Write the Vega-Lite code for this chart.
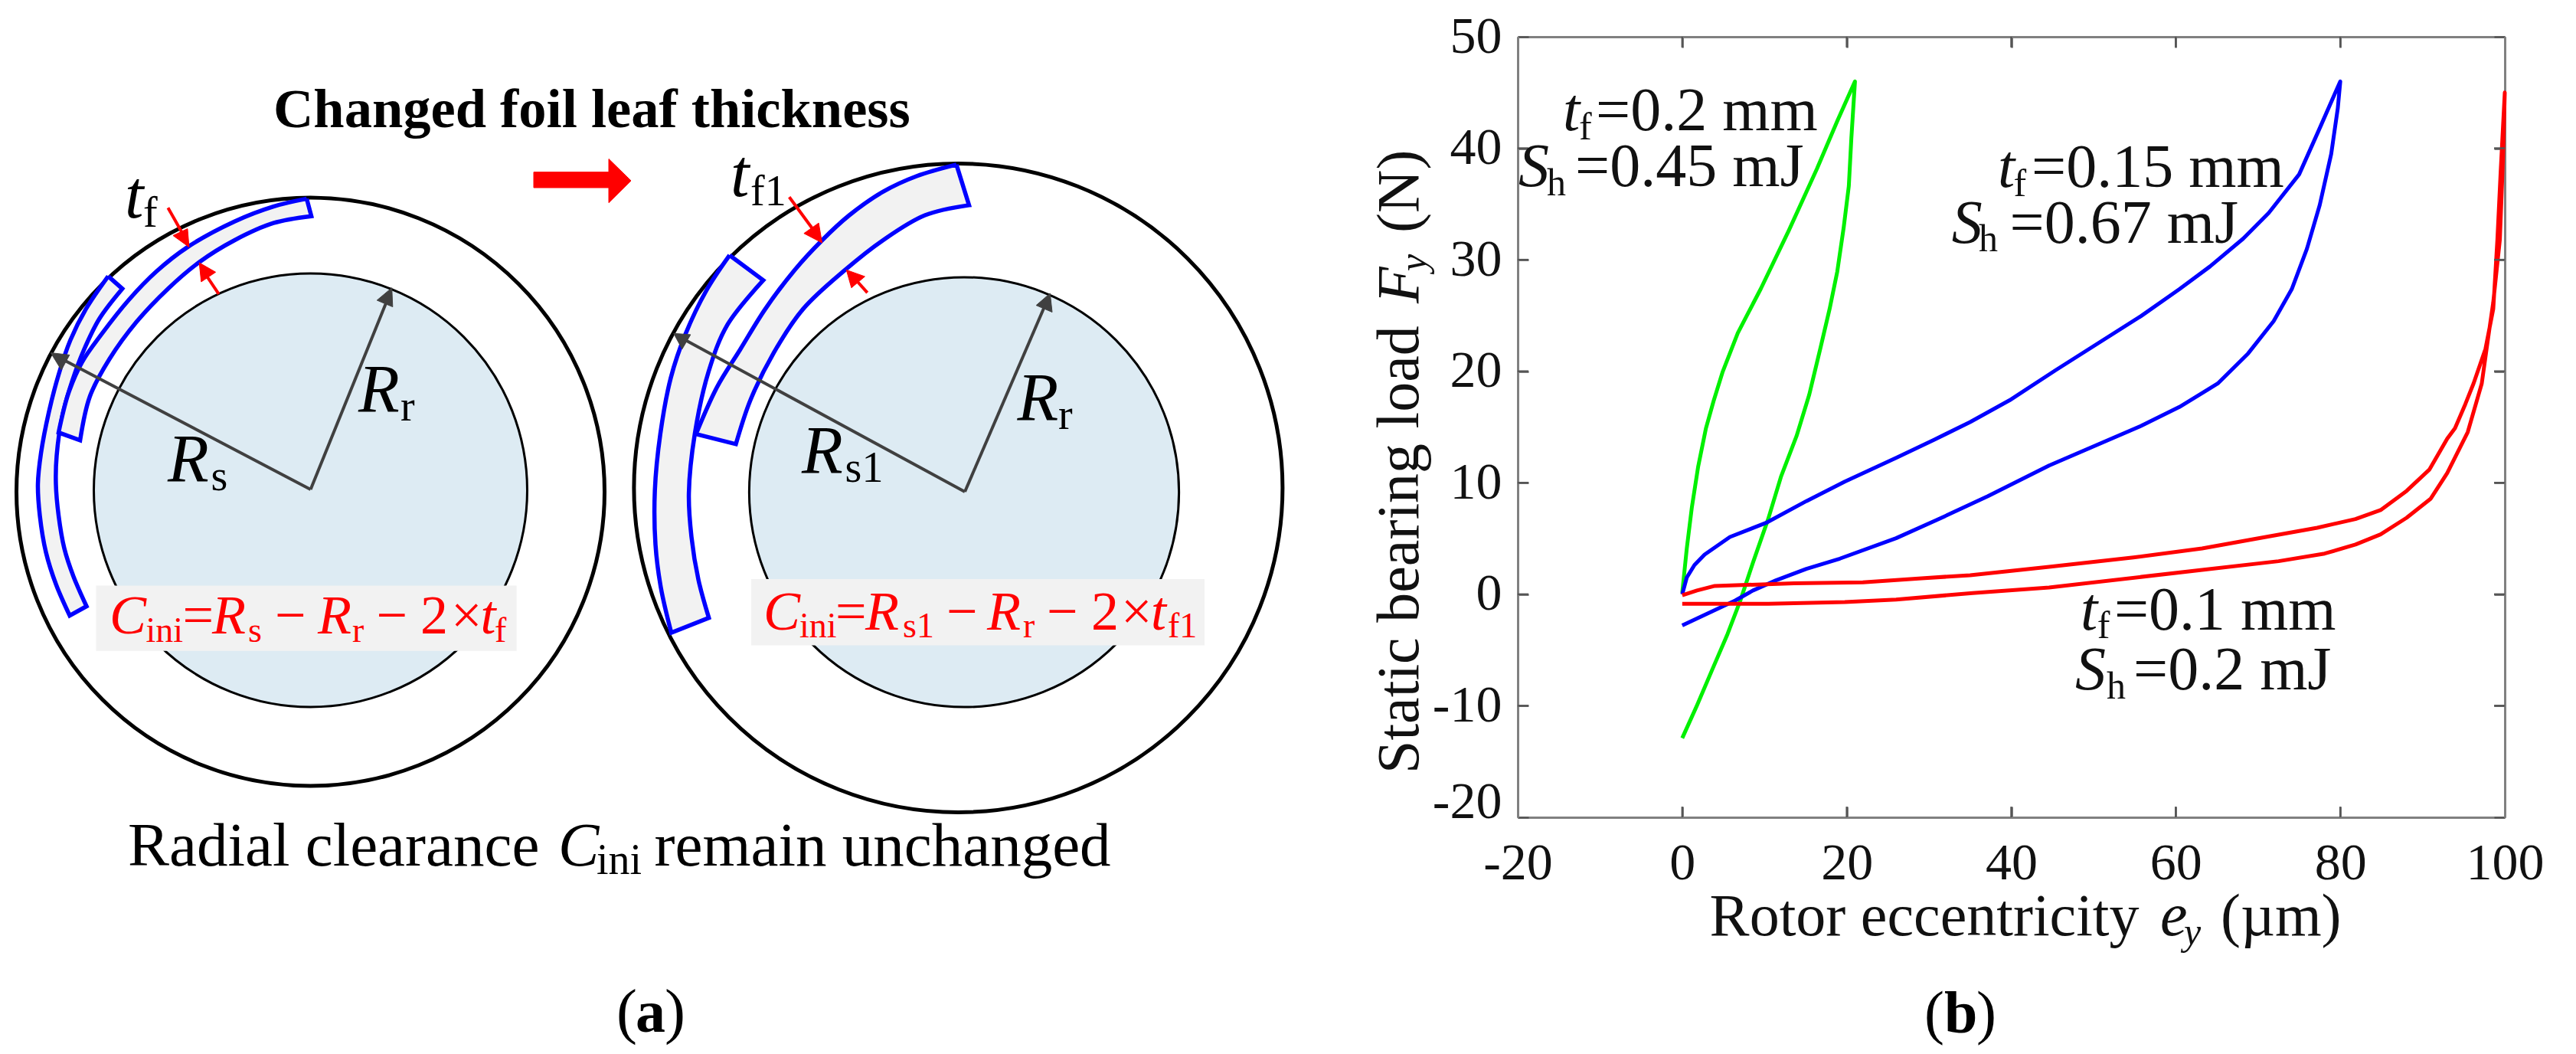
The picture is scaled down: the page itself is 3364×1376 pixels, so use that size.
{
"$schema":"https://vega.github.io/schema/vega-lite/v6.json",
"background":"white",
"padding":{"left":0,"top":14,"right":0,"bottom":0},
"spacing":10,
"config":{"view":{"stroke":null},"text":{"font":"Liberation Serif"},"axis":{"labelFont":"Liberation Serif"}},
"hconcat":[
{"width":1780,"height":1329,
"layer":[
{"mark":{"type":"point","shape":"circle","filled":true,"fill":"#ddebf3","stroke":"black","strokeWidth":3,"size":320356,"opacity":1},
"data":{"values":[{"x":405.5,"y":639}]},
"encoding":{"x":{"field":"x","type":"quantitative","scale":{"domain":[0,1780],"nice":false,"zero":false},"axis":null},"y":{"field":"y","type":"quantitative","scale":{"domain":[1376,47],"nice":false,"zero":false},"axis":null}}},
{"mark":{"type":"point","shape":"circle","filled":true,"fill":"#ddebf3","stroke":"black","strokeWidth":3,"size":315000,"opacity":1},
"data":{"values":[{"x":1259,"y":641.5}]},
"encoding":{"x":{"field":"x","type":"quantitative"},"y":{"field":"y","type":"quantitative"}}},
{"mark":{"type":"point","shape":"circle","filled":false,"stroke":"black","strokeWidth":5,"size":589824,"opacity":1},
"data":{"values":[{"x":405.5,"y":641}]},
"encoding":{"x":{"field":"x","type":"quantitative"},"y":{"field":"y","type":"quantitative"}}},
{"mark":{"type":"point","shape":"circle","filled":false,"stroke":"black","strokeWidth":5,"size":717409,"opacity":1},
"data":{"values":[{"x":1251.4,"y":636}]},
"encoding":{"x":{"field":"x","type":"quantitative"},"y":{"field":"y","type":"quantitative"}}},
{"mark":{"type":"line","interpolate":"catmull-rom","fill":"#f2f2f2","stroke":"#0000ff","strokeWidth":5.5,"strokeJoin":"miter"},
"data":{"values":[
{"p":"B1","i":0,"x":141.3,"y":359.6},{"p":"B1","i":0.5,"x":141.3,"y":359.6},{"p":"B1","i":1,"x":112.2,"y":402.4},{"p":"B1","i":2,"x":91.8,"y":443.3},{"p":"B1","i":3,"x":76.5,"y":488.2},{"p":"B1","i":4,"x":63.8,"y":537.1},{"p":"B1","i":5,"x":53.6,"y":590.2},{"p":"B1","i":6,"x":49.5,"y":631},{"p":"B1","i":7,"x":52,"y":672},{"p":"B1","i":8,"x":60,"y":720},{"p":"B1","i":9,"x":73.2,"y":762},{"p":"B1","i":10,"x":91,"y":802.6},{"p":"B1","i":10.5,"x":91,"y":802.6},{"p":"B1","i":11,"x":113,"y":790.5},{"p":"B1","i":11.5,"x":113,"y":790.5},{"p":"B1","i":12,"x":96,"y":751.7},{"p":"B1","i":13,"x":84,"y":715},{"p":"B1","i":14,"x":76.5,"y":671.8},{"p":"B1","i":15,"x":73,"y":631},{"p":"B1","i":16,"x":74,"y":594},{"p":"B1","i":17,"x":81.6,"y":541},{"p":"B1","i":18,"x":94.4,"y":496},{"p":"B1","i":19,"x":109.7,"y":455.5},{"p":"B1","i":20,"x":130,"y":414.7},{"p":"B1","i":21,"x":159.7,"y":375.9},{"p":"B1","i":21.5,"x":159.7,"y":375.9},{"p":"B1","i":22,"x":141.3,"y":359.6},
{"p":"A1","i":0,"x":400.5,"y":258.4},{"p":"A1","i":0.5,"x":400.5,"y":258.4},{"p":"A1","i":1,"x":357.1,"y":268.6},{"p":"A1","i":2,"x":306.1,"y":288.2},{"p":"A1","i":3,"x":244.9,"y":321.6},{"p":"A1","i":4,"x":204.1,"y":353.5},{"p":"A1","i":5,"x":168.4,"y":390.2},{"p":"A1","i":6,"x":132.7,"y":435.1},{"p":"A1","i":7,"x":107.1,"y":471.8},{"p":"A1","i":8,"x":89.3,"y":512.7},{"p":"A1","i":9,"x":76.5,"y":563.7},{"p":"A1","i":9.5,"x":76.5,"y":563.7},{"p":"A1","i":10,"x":104.6,"y":573.9},{"p":"A1","i":10.5,"x":104.6,"y":573.9},{"p":"A1","i":11,"x":117.3,"y":516.7},{"p":"A1","i":12,"x":142.9,"y":467.8},{"p":"A1","i":13,"x":178.6,"y":418.8},{"p":"A1","i":14,"x":219.4,"y":375.9},{"p":"A1","i":15,"x":260.2,"y":341.2},{"p":"A1","i":16,"x":306.1,"y":312.7},{"p":"A1","i":17,"x":357.1,"y":290.2},{"p":"A1","i":18,"x":406.6,"y":281.2},{"p":"A1","i":18.5,"x":406.6,"y":281.2},{"p":"A1","i":19,"x":400.5,"y":258.4},
{"p":"B2","i":0,"x":952.8,"y":332.2},{"p":"B2","i":0.5,"x":952.8,"y":332.2},{"p":"B2","i":1,"x":922.6,"y":378},{"p":"B2","i":2,"x":895.2,"y":435.1},{"p":"B2","i":3,"x":876,"y":492.2},{"p":"B2","i":4,"x":862.3,"y":565.7},{"p":"B2","i":5,"x":855.2,"y":639.2},{"p":"B2","i":6,"x":856,"y":710},{"p":"B2","i":7,"x":863,"y":766},{"p":"B2","i":8,"x":876.6,"y":825},{"p":"B2","i":8.5,"x":876.6,"y":825},{"p":"B2","i":9,"x":925.7,"y":805.6},{"p":"B2","i":9.5,"x":925.7,"y":805.6},{"p":"B2","i":10,"x":912.1,"y":756},{"p":"B2","i":11,"x":903,"y":700},{"p":"B2","i":12,"x":899.6,"y":643},{"p":"B2","i":13,"x":907.3,"y":565.7},{"p":"B2","i":14,"x":925.4,"y":484},{"p":"B2","i":15,"x":950,"y":422.9},{"p":"B2","i":16,"x":996.7,"y":364.9},{"p":"B2","i":16.5,"x":996.7,"y":364.9},{"p":"B2","i":17,"x":952.8,"y":332.2},
{"p":"A2","i":0,"x":1249,"y":213.9},{"p":"A2","i":0.5,"x":1249,"y":213.9},{"p":"A2","i":1,"x":1196.9,"y":229},{"p":"A2","i":2,"x":1153,"y":249.4},{"p":"A2","i":3,"x":1109.1,"y":280},{"p":"A2","i":4,"x":1073.5,"y":312.7},{"p":"A2","i":5,"x":1037.8,"y":351.4},{"p":"A2","i":6,"x":999.4,"y":402.4},{"p":"A2","i":7,"x":966.5,"y":455.5},{"p":"A2","i":8,"x":936.3,"y":504.5},{"p":"A2","i":9,"x":908.9,"y":565.7},{"p":"A2","i":9.5,"x":908.9,"y":565.7},{"p":"A2","i":10,"x":961,"y":578.8},{"p":"A2","i":10.5,"x":961,"y":578.8},{"p":"A2","i":11,"x":980.2,"y":520.8},{"p":"A2","i":12,"x":1010.4,"y":459.6},{"p":"A2","i":13,"x":1048.8,"y":402.4},{"p":"A2","i":14,"x":1103.6,"y":351.4},{"p":"A2","i":15,"x":1153,"y":312.7},{"p":"A2","i":16,"x":1207.9,"y":280},{"p":"A2","i":17,"x":1265.5,"y":266.9},{"p":"A2","i":17.5,"x":1265.5,"y":266.9},{"p":"A2","i":18,"x":1249,"y":213.9}
]},
"encoding":{"x":{"field":"x","type":"quantitative"},"y":{"field":"y","type":"quantitative"},"detail":{"field":"p"},"order":{"field":"i","type":"quantitative"}}},
{"mark":{"type":"line","stroke":"#404040","strokeWidth":4},
"data":{"values":[
{"p":"a","i":0,"x":405.6,"y":638},{"p":"a","i":1,"x":70,"y":462},
{"p":"b","i":0,"x":405.6,"y":638},{"p":"b","i":1,"x":508,"y":385},
{"p":"c","i":0,"x":1260,"y":641},{"p":"c","i":1,"x":884,"y":437},
{"p":"d","i":0,"x":1260,"y":641},{"p":"d","i":1,"x":1368,"y":390}
]},
"encoding":{"x":{"field":"x","type":"quantitative"},"y":{"field":"y","type":"quantitative"},"detail":{"field":"p"},"order":{"field":"i","type":"quantitative"}}},
{"mark":{"type":"line","fill":"#404040","stroke":"#404040","strokeWidth":1},
"data":{"values":[
{"p":"a","i":0,"x":66.3,"y":459.6},{"p":"a","i":1,"x":90.8,"y":462.4},{"p":"a","i":2,"x":80.1,"y":482},{"p":"a","i":3,"x":66.3,"y":459.6},
{"p":"b","i":0,"x":511.7,"y":374.7},{"p":"b","i":1,"x":492.3,"y":391},{"p":"b","i":2,"x":512.8,"y":399.6},{"p":"b","i":3,"x":511.7,"y":374.7},
{"p":"c","i":0,"x":879.8,"y":434.3},{"p":"c","i":1,"x":901.8,"y":435.9},{"p":"c","i":2,"x":890.8,"y":454.7},{"p":"c","i":3,"x":879.8,"y":434.3},
{"p":"d","i":0,"x":1371.3,"y":382},{"p":"d","i":1,"x":1353.2,"y":397.6},{"p":"d","i":2,"x":1374,"y":406.5},{"p":"d","i":3,"x":1371.3,"y":382}
]},
"encoding":{"x":{"field":"x","type":"quantitative"},"y":{"field":"y","type":"quantitative"},"detail":{"field":"p"},"order":{"field":"i","type":"quantitative"}}},
{"mark":{"type":"line","stroke":"#ff0000","strokeWidth":4},
"data":{"values":[
{"p":"a","i":0,"x":219.4,"y":270.2},{"p":"a","i":1,"x":243,"y":312},
{"p":"b","i":0,"x":285.7,"y":382.9},{"p":"b","i":1,"x":265,"y":352},
{"p":"c","i":0,"x":1030.7,"y":256.3},{"p":"c","i":1,"x":1068,"y":307},
{"p":"d","i":0,"x":1132.7,"y":381.2},{"p":"d","i":1,"x":1112,"y":358}
]},
"encoding":{"x":{"field":"x","type":"quantitative"},"y":{"field":"y","type":"quantitative"},"detail":{"field":"p"},"order":{"field":"i","type":"quantitative"}}},
{"mark":{"type":"line","fill":"#ff0000","stroke":"#ff0000","strokeWidth":1},
"data":{"values":[
{"p":"a","i":0,"x":246.9,"y":321.6},{"p":"a","i":1,"x":244.9,"y":297.6},{"p":"a","i":2,"x":226,"y":306.5},{"p":"a","i":3,"x":246.9,"y":321.6},
{"p":"b","i":0,"x":260.2,"y":342},{"p":"b","i":1,"x":281.6,"y":354.3},{"p":"b","i":2,"x":262.8,"y":366.9},{"p":"b","i":3,"x":260.2,"y":342},
{"p":"c","i":0,"x":1073.5,"y":315.9},{"p":"c","i":1,"x":1069.1,"y":290.2},{"p":"c","i":2,"x":1049.9,"y":303.7},{"p":"c","i":3,"x":1073.5,"y":315.9},
{"p":"d","i":0,"x":1105.3,"y":351.4},{"p":"d","i":1,"x":1129.4,"y":360},{"p":"d","i":2,"x":1111.9,"y":374.7},{"p":"d","i":3,"x":1105.3,"y":351.4},
{"p":"e","i":0,"x":697,"y":223.7},{"p":"e","i":1,"x":795,"y":223.7},{"p":"e","i":2,"x":795,"y":206.5},{"p":"e","i":3,"x":824,"y":234.9},{"p":"e","i":4,"x":795,"y":263.7},{"p":"e","i":5,"x":795,"y":244},{"p":"e","i":6,"x":697,"y":244},{"p":"e","i":7,"x":697,"y":223.7}
]},
"encoding":{"x":{"field":"x","type":"quantitative"},"y":{"field":"y","type":"quantitative"},"detail":{"field":"p"},"order":{"field":"i","type":"quantitative"}}},
{"mark":{"type":"rect","fill":"#f2f2f2"},
"data":{"values":[{"x":125.5,"x2":674.7,"y":763.4,"y2":848.7},{"x":981,"x2":1573,"y":755,"y2":841.4}]},
"encoding":{"x":{"field":"x","type":"quantitative"},"x2":{"field":"x2"},"y":{"field":"y","type":"quantitative"},"y2":{"field":"y2"}}},
{"mark":{"type":"text","align":"left","baseline":"alphabetic","fontSize":72.5,"fontWeight":"bold","color":"black"},
"data":{"values":[{"t":"Changed foil leaf thickness","x":357,"y":164.5}]},
"encoding":{"x":{"field":"x","type":"quantitative"},"y":{"field":"y","type":"quantitative"},"text":{"field":"t"}}},
{"mark":{"type":"text","align":"left","baseline":"alphabetic","fontSize":81,"color":"black"},
"data":{"values":[{"t":"Radial clearance","x":167,"y":1129},{"t":"remain unchanged","x":854.6,"y":1129},{"t":"(","x":805,"y":1346},{"t":")","x":868,"y":1346}]},
"encoding":{"x":{"field":"x","type":"quantitative"},"y":{"field":"y","type":"quantitative"},"text":{"field":"t"}}},
{"mark":{"type":"text","align":"left","baseline":"alphabetic","fontSize":78,"fontWeight":"bold","color":"black"},
"data":{"values":[{"t":"a","x":830,"y":1346}]},
"encoding":{"x":{"field":"x","type":"quantitative"},"y":{"field":"y","type":"quantitative"},"text":{"field":"t"}}},
{"mark":{"type":"text","align":"left","baseline":"alphabetic","fontSize":80,"fontStyle":"italic","color":"black"},
"data":{"values":[{"t":"C","x":729,"y":1129}]},
"encoding":{"x":{"field":"x","type":"quantitative"},"y":{"field":"y","type":"quantitative"},"text":{"field":"t"}}},
{"mark":{"type":"text","align":"left","baseline":"alphabetic","fontSize":88,"fontStyle":"italic","color":"black"},
"data":{"values":[{"t":"t","x":163,"y":283},{"t":"t","x":954,"y":254.7},{"t":"R","x":219,"y":627},{"t":"R","x":468,"y":536},{"t":"R","x":1047,"y":616},{"t":"R","x":1328.5,"y":547}]},
"encoding":{"x":{"field":"x","type":"quantitative"},"y":{"field":"y","type":"quantitative"},"text":{"field":"t"}}},
{"mark":{"type":"text","align":"left","baseline":"alphabetic","fontSize":56,"color":"black"},
"data":{"values":[{"t":"ini","x":779,"y":1139.6},{"t":"f","x":187,"y":295},{"t":"f1","x":980,"y":267},{"t":"s","x":275.5,"y":639},{"t":"r","x":523,"y":548},{"t":"s1","x":1103.6,"y":628},{"t":"r","x":1382,"y":559}]},
"encoding":{"x":{"field":"x","type":"quantitative"},"y":{"field":"y","type":"quantitative"},"text":{"field":"t"}}},
{"mark":{"type":"text","align":"left","baseline":"alphabetic","fontSize":72,"fontStyle":"italic","color":"#ff0000"},
"data":{"values":[{"t":"C","x":143,"y":826},{"t":"R","x":277,"y":826},{"t":"R","x":415,"y":826},{"t":"t","x":627.6,"y":826},{"t":"C","x":997,"y":820.7},{"t":"R","x":1130,"y":820.7},{"t":"R","x":1289,"y":820.7},{"t":"t","x":1503,"y":820.7}]},
"encoding":{"x":{"field":"x","type":"quantitative"},"y":{"field":"y","type":"quantitative"},"text":{"field":"t"}}},
{"mark":{"type":"text","align":"left","baseline":"alphabetic","fontSize":72,"color":"#ff0000"},
"data":{"values":[{"t":"=","x":238.5,"y":826},{"t":"−","x":359,"y":826},{"t":"−","x":491.6,"y":826},{"t":"2","x":549,"y":826},{"t":"×","x":589,"y":826},{"t":"=","x":1091,"y":820.7},{"t":"−","x":1236,"y":820.7},{"t":"−","x":1367,"y":820.7},{"t":"2","x":1425,"y":820.7},{"t":"×","x":1464,"y":820.7}]},
"encoding":{"x":{"field":"x","type":"quantitative"},"y":{"field":"y","type":"quantitative"},"text":{"field":"t"}}},
{"mark":{"type":"text","align":"left","baseline":"alphabetic","fontSize":46,"color":"#ff0000"},
"data":{"values":[{"t":"ini","x":190.4,"y":837},{"t":"s","x":324,"y":837},{"t":"r","x":460,"y":837},{"t":"f","x":646,"y":837},{"t":"ini","x":1044,"y":830.6},{"t":"s1","x":1179,"y":830.6},{"t":"r","x":1336,"y":830.6},{"t":"f1","x":1525,"y":830.6}]},
"encoding":{"x":{"field":"x","type":"quantitative"},"y":{"field":"y","type":"quantitative"},"text":{"field":"t"}}}
]},
{"width":1289,"height":1019,
"layer":[
{"mark":{"type":"line","strokeWidth":5,"strokeJoin":"round"},
"data":{"values":[
{"c":"g","i":0,"e":0,"f":0.13},{"c":"g","i":1,"e":0.55,"f":4.1},{"c":"g","i":2,"e":1.17,"f":7.8},{"c":"g","i":3,"e":1.94,"f":11.47},{"c":"g","i":4,"e":2.87,"f":14.85},{"c":"g","i":5,"e":3.8,"f":17.3},{"c":"g","i":6,"e":4.89,"f":19.9},{"c":"g","i":7,"e":6.75,"f":23.43},{"c":"g","i":8,"e":9.55,"f":27.4},{"c":"g","i":9,"e":12.96,"f":32.63},{"c":"g","i":10,"e":16.37,"f":38.15},{"c":"g","i":11,"e":18.85,"f":42.45},{"c":"g","i":12,"e":21,"f":46},{"c":"g","i":13,"e":20.56,"f":40.9},{"c":"g","i":14,"e":20.25,"f":36.6},{"c":"g","i":15,"e":19.63,"f":32.9},{"c":"g","i":16,"e":18.85,"f":28.95},{"c":"g","i":17,"e":17.92,"f":25.6},{"c":"g","i":18,"e":16.84,"f":22.2},{"c":"g","i":19,"e":15.44,"f":17.9},{"c":"g","i":20,"e":13.9,"f":14.2},{"c":"g","i":21,"e":12.03,"f":10.6},{"c":"g","i":22,"e":10.47,"f":6.8},{"c":"g","i":23,"e":8.61,"f":2.87},{"c":"g","i":24,"e":7.06,"f":-0.57},{"c":"g","i":25,"e":5.51,"f":-3.56},{"c":"g","i":26,"e":3.65,"f":-6.75},{"c":"g","i":27,"e":1.79,"f":-9.97},{"c":"g","i":28,"e":0,"f":-12.9},
{"c":"b","i":0,"e":0,"f":0},{"c":"b","i":1,"e":0.55,"f":1.5},{"c":"b","i":2,"e":1.48,"f":2.62},{"c":"b","i":3,"e":2.72,"f":3.56},{"c":"b","i":4,"e":5.8,"f":5.14},{"c":"b","i":5,"e":10.17,"f":6.4},{"c":"b","i":6,"e":15.1,"f":8.36},{"c":"b","i":7,"e":19.76,"f":10.1},{"c":"b","i":8,"e":26,"f":12.24},{"c":"b","i":9,"e":30.6,"f":13.85},{"c":"b","i":10,"e":35,"f":15.45},{"c":"b","i":11,"e":39.8,"f":17.4},{"c":"b","i":12,"e":45.4,"f":20.1},{"c":"b","i":13,"e":55.78,"f":24.95},{"c":"b","i":14,"e":60.44,"f":27.36},{"c":"b","i":15,"e":64.16,"f":29.4},{"c":"b","i":16,"e":68.2,"f":31.9},{"c":"b","i":17,"e":71.3,"f":34.2},{"c":"b","i":18,"e":75,"f":37.66},{"c":"b","i":19,"e":77.5,"f":41.8},{"c":"b","i":20,"e":80,"f":46},{"c":"b","i":21,"e":79.7,"f":43.6},{"c":"b","i":22,"e":78.9,"f":39.5},{"c":"b","i":23,"e":77.5,"f":34.9},{"c":"b","i":24,"e":75.95,"f":31},{"c":"b","i":25,"e":74.1,"f":27.36},{"c":"b","i":26,"e":71.9,"f":24.5},{"c":"b","i":27,"e":68.8,"f":21.6},{"c":"b","i":28,"e":65.1,"f":18.9},{"c":"b","i":29,"e":60.44,"f":16.8},{"c":"b","i":30,"e":55.78,"f":15.1},{"c":"b","i":31,"e":44.6,"f":11.55},{"c":"b","i":32,"e":37.16,"f":8.8},{"c":"b","i":33,"e":30.9,"f":6.65},{"c":"b","i":34,"e":26,"f":5.03},{"c":"b","i":35,"e":19.17,"f":3.2},{"c":"b","i":36,"e":15.1,"f":2.28},{"c":"b","i":37,"e":11.4,"f":1.25},{"c":"b","i":38,"e":8.6,"f":0.34},{"c":"b","i":39,"e":6.44,"f":-0.56},{"c":"b","i":40,"e":2.72,"f":-1.84},{"c":"b","i":41,"e":0,"f":-2.8},
{"c":"r","i":0,"e":0,"f":-0.08},{"c":"r","i":1,"e":1.79,"f":0.34},{"c":"r","i":2,"e":3.96,"f":0.75},{"c":"r","i":3,"e":13.58,"f":0.98},{"c":"r","i":4,"e":21.96,"f":1.07},{"c":"r","i":5,"e":29.1,"f":1.44},{"c":"r","i":6,"e":35,"f":1.71},{"c":"r","i":7,"e":44.6,"f":2.46},{"c":"r","i":8,"e":54.85,"f":3.3},{"c":"r","i":9,"e":63.2,"f":4.11},{"c":"r","i":10,"e":69.4,"f":4.94},{"c":"r","i":11,"e":77.2,"f":5.97},{"c":"r","i":12,"e":81.85,"f":6.75},{"c":"r","i":13,"e":84.9,"f":7.55},{"c":"r","i":14,"e":88.06,"f":9.27},{"c":"r","i":15,"e":90.85,"f":11.2},{"c":"r","i":16,"e":93,"f":13.96},{"c":"r","i":17,"e":93.95,"f":14.9},{"c":"r","i":18,"e":95.2,"f":17.05},{"c":"r","i":19,"e":96.2,"f":18.9},{"c":"r","i":20,"e":97.65,"f":22},{"c":"r","i":21,"e":98.6,"f":25.6},{"c":"r","i":22,"e":99.1,"f":31.8},{"c":"r","i":23,"e":99.5,"f":37.9},{"c":"r","i":24,"e":100,"f":45},{"c":"r","i":25,"e":99.8,"f":39.4},{"c":"r","i":26,"e":99.4,"f":31.8},{"c":"r","i":27,"e":98.6,"f":26.2},{"c":"r","i":28,"e":97.9,"f":22.6},{"c":"r","i":29,"e":97.2,"f":18.9},{"c":"r","i":30,"e":95.5,"f":14.55},{"c":"r","i":31,"e":93,"f":10.87},{"c":"r","i":32,"e":91,"f":8.58},{"c":"r","i":33,"e":88.06,"f":6.86},{"c":"r","i":34,"e":84.9,"f":5.37},{"c":"r","i":35,"e":81.85,"f":4.46},{"c":"r","i":36,"e":78.1,"f":3.65},{"c":"r","i":37,"e":72.5,"f":2.97},{"c":"r","i":38,"e":63.2,"f":2.19},{"c":"r","i":39,"e":44.6,"f":0.61},{"c":"r","i":40,"e":35.3,"f":0.11},{"c":"r","i":41,"e":26,"f":-0.47},{"c":"r","i":42,"e":19.76,"f":-0.69},{"c":"r","i":43,"e":10.45,"f":-0.85},{"c":"r","i":44,"e":0,"f":-0.85}
]},
"encoding":{
"x":{"field":"e","type":"quantitative","scale":{"domain":[-20,100],"nice":false,"zero":false},"axis":{"orient":"bottom","title":null,"values":[-20,0,20,40,60,80,100],"grid":false,"domainColor":"#808080","domainWidth":3,"tickColor":"#555555","tickWidth":2.5,"tickSize":-14,"labelFontSize":68,"labelColor":"#111111","labelPadding":40,"labelFlush":false,"labelOverlap":false,"labelExpr":"replace(datum.label,'−','-')"}},
"y":{"field":"f","type":"quantitative","scale":{"domain":[-20,50],"nice":false,"zero":false},"axis":{"orient":"left","title":null,"values":[-20,-10,0,10,20,30,40,50],"grid":false,"domainColor":"#808080","domainWidth":3,"tickColor":"#555555","tickWidth":2.5,"tickSize":-14,"labelFontSize":68,"labelColor":"#111111","labelPadding":35,"labelFlush":false,"labelOverlap":false,"labelExpr":"replace(datum.label,'−','-')","labelBaseline":{"condition":{"test":"datum.value==-20","value":"alphabetic"},"value":"middle"}}},
"color":{"field":"c","type":"nominal","scale":{"domain":["g","b","r"],"range":["#00f000","#0000ff","#ff0000"]},"legend":null},
"detail":{"field":"c"},
"order":{"field":"i","type":"quantitative"}}},
{"mark":{"type":"rule","opacity":0},
"data":{"values":[{"e":0,"f":0}]},
"encoding":{
"x":{"field":"e","type":"quantitative","axis":{"orient":"top","title":null,"labels":false,"values":[-20,0,20,40,60,80,100],"grid":false,"domainColor":"#808080","domainWidth":3,"tickColor":"#555555","tickWidth":2.5,"tickSize":-14}},
"y":{"field":"f","type":"quantitative","axis":{"orient":"right","title":null,"labels":false,"values":[-20,-10,0,10,20,30,40,50],"grid":false,"domainColor":"#808080","domainWidth":3,"tickColor":"#555555","tickWidth":2.5,"tickSize":-14}}}},
{"mark":{"type":"rule","color":"#555555","strokeWidth":2.5},
"data":{"values":[{"a":-20,"b":-18.7,"f":-10},{"a":-20,"b":-18.7,"f":0},{"a":-20,"b":-18.7,"f":10},{"a":-20,"b":-18.7,"f":20},{"a":-20,"b":-18.7,"f":30},{"a":-20,"b":-18.7,"f":40},{"a":100,"b":98.7,"f":-10},{"a":100,"b":98.7,"f":0},{"a":100,"b":98.7,"f":10},{"a":100,"b":98.7,"f":20},{"a":100,"b":98.7,"f":30},{"a":100,"b":98.7,"f":40}]},
"encoding":{"x":{"field":"a","type":"quantitative","axis":null},"x2":{"field":"b"},"y":{"field":"f","type":"quantitative","axis":null}}},
{"mark":{"type":"rule","color":"#555555","strokeWidth":2.5},
"data":{"values":[{"e":0,"a":-20,"b":-19.05},{"e":20,"a":-20,"b":-19.05},{"e":40,"a":-20,"b":-19.05},{"e":60,"a":-20,"b":-19.05},{"e":80,"a":-20,"b":-19.05},{"e":0,"a":50,"b":49.05},{"e":20,"a":50,"b":49.05},{"e":40,"a":50,"b":49.05},{"e":60,"a":50,"b":49.05},{"e":80,"a":50,"b":49.05}]},
"encoding":{"x":{"field":"e","type":"quantitative","axis":null},"y":{"field":"a","type":"quantitative","axis":null},"y2":{"field":"b"}}},
{"mark":{"type":"text","align":"left","baseline":"alphabetic","fontSize":80,"color":"#111111"},
"data":{"values":[{"t":"=0.2 mm","e":-10.5,"f":41.64},{"t":"=0.45 mJ","e":-13.01,"f":36.61},{"t":"=0.15 mm","e":42.47,"f":36.54},{"t":"=0.67 mJ","e":39.82,"f":31.52},{"t":"=0.1 mm","e":52.52,"f":-3.17},{"t":"=0.2 mJ","e":54.85,"f":-8.52}]},
"encoding":{"x":{"field":"e","type":"quantitative","axis":null},"y":{"field":"f","type":"quantitative","axis":null},"text":{"field":"t"}}},
{"mark":{"type":"text","align":"left","baseline":"alphabetic","fontSize":78,"color":"#111111"},
"data":{"values":[{"t":"Rotor eccentricity","e":3.33,"f":-30.58},{"t":"(µm)","e":65.46,"f":-30.58}]},
"encoding":{"x":{"field":"e","type":"quantitative","axis":null},"y":{"field":"f","type":"quantitative","axis":null},"text":{"field":"t"}}},
{"mark":{"type":"text","align":"left","baseline":"alphabetic","fontSize":80,"fontStyle":"italic","color":"#111111"},
"data":{"values":[{"t":"t","e":-14.5,"f":41.64},{"t":"S","e":-19.9,"f":36.61},{"t":"t","e":38.37,"f":36.54},{"t":"S","e":32.76,"f":31.52},{"t":"t","e":48.43,"f":-3.17},{"t":"S","e":47.78,"f":-8.52},{"t":"e","e":58.11,"f":-30.58}]},
"encoding":{"x":{"field":"e","type":"quantitative","axis":null},"y":{"field":"f","type":"quantitative","axis":null},"text":{"field":"t"}}},
{"mark":{"type":"text","align":"left","baseline":"alphabetic","fontSize":50,"color":"#111111"},
"data":{"values":[{"t":"f","e":-12.55,"f":40.8},{"t":"h","e":-16.46,"f":35.75},{"t":"f","e":40.28,"f":35.71},{"t":"h","e":36.05,"f":30.77},{"t":"f","e":50.44,"f":-3.92},{"t":"h","e":51.59,"f":-9.35}]},
"encoding":{"x":{"field":"e","type":"quantitative","axis":null},"y":{"field":"f","type":"quantitative","axis":null},"text":{"field":"t"}}},
{"mark":{"type":"text","align":"left","baseline":"alphabetic","fontSize":50,"fontStyle":"italic","color":"#111111"},
"data":{"values":[{"t":"y","e":60.99,"f":-31.4}]},
"encoding":{"x":{"field":"e","type":"quantitative","axis":null},"y":{"field":"f","type":"quantitative","axis":null},"text":{"field":"t"}}},
{"mark":{"type":"text","align":"left","baseline":"alphabetic","angle":270,"fontSize":78,"color":"#111111"},
"data":{"values":[{"t":"Static bearing load","e":-32.1,"f":-16.08},{"t":"(N)","e":-32.1,"f":32.42}]},
"encoding":{"x":{"field":"e","type":"quantitative","axis":null},"y":{"field":"f","type":"quantitative","axis":null},"text":{"field":"t"}}},
{"mark":{"type":"text","align":"left","baseline":"alphabetic","angle":270,"fontSize":78,"fontStyle":"italic","color":"#111111"},
"data":{"values":[{"t":"F","e":-32.1,"f":26.1}]},
"encoding":{"x":{"field":"e","type":"quantitative","axis":null},"y":{"field":"f","type":"quantitative","axis":null},"text":{"field":"t"}}},
{"mark":{"type":"text","align":"left","baseline":"alphabetic","angle":270,"fontSize":50,"fontStyle":"italic","color":"#111111"},
"data":{"values":[{"t":"y","e":-31.17,"f":28.98}]},
"encoding":{"x":{"field":"e","type":"quantitative","axis":null},"y":{"field":"f","type":"quantitative","axis":null},"text":{"field":"t"}}},
{"mark":{"type":"text","align":"left","baseline":"alphabetic","fontSize":78,"color":"black"},
"data":{"values":[{"t":"(","e":29.44,"f":-39.3},{"t":")","e":35.77,"f":-39.3}]},
"encoding":{"x":{"field":"e","type":"quantitative","axis":null},"y":{"field":"f","type":"quantitative","axis":null},"text":{"field":"t"}}},
{"mark":{"type":"text","align":"left","baseline":"alphabetic","fontSize":78,"fontWeight":"bold","color":"black"},
"data":{"values":[{"t":"b","e":31.86,"f":-39.3}]},
"encoding":{"x":{"field":"e","type":"quantitative","axis":null},"y":{"field":"f","type":"quantitative","axis":null},"text":{"field":"t"}}}
],
"resolve":{"axis":{"x":"independent","y":"independent"}}
}
]
}
